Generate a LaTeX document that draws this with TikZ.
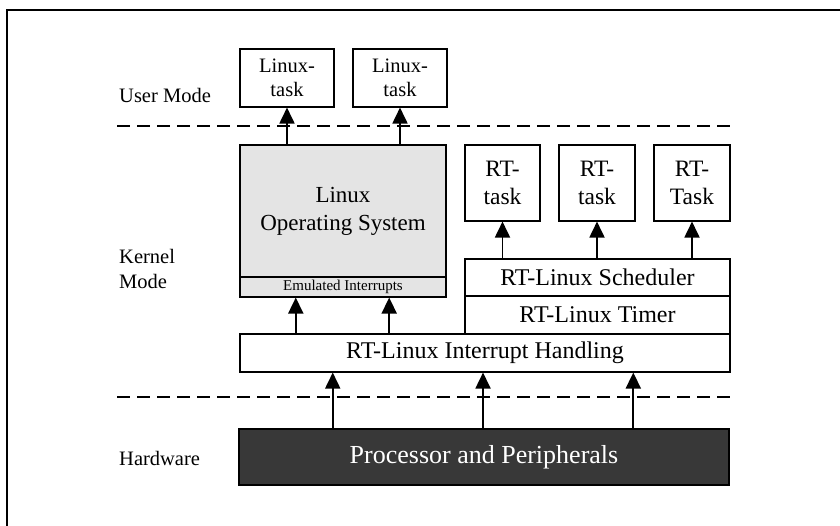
\documentclass[tikz,border=0pt]{standalone}
\usepackage{fontspec}
\setmainfont{Liberation Serif}
\usetikzlibrary{arrows.meta,calc}
\definecolor{osgray}{HTML}{E4E4E4}
\definecolor{hwgray}{HTML}{383838}
\begin{document}
\begin{tikzpicture}[x=1pt,y=-1pt,
  box/.style={draw=black,line width=1.1pt,rectangle,inner sep=0pt,align=center},
  arr/.style={line width=1.8pt,-{Triangle[width=15pt,length=16pt]}},
  sep/.style={line width=2.5pt,dash pattern=on 13pt off 7pt},
  lbl/.style={anchor=west,align=left,inner sep=0pt,font=\fontsize{20.5}{25}\selectfont}]
\useasboundingbox (0,0) rectangle (840,526);
\draw[line width=2.5pt] (7,530) -- (7,10) -- (845,10);
% separators
\draw[sep] (117,126) -- (732,126);
\draw[sep] (117,397) -- (732,397);
% labels
\node[lbl] (um) at (119,95) {User Mode};
\node[lbl] (km) at (119,269) {Kernel\\Mode};
\node[lbl] (hw) at (119,458) {Hardware};
% user tasks
\node[box,minimum width=94pt,minimum height=58pt,font=\fontsize{20.5}{24}\selectfont] (lt1) at (287,78) {Linux-\\task};
\node[box,minimum width=94pt,minimum height=58pt,font=\fontsize{20.5}{24}\selectfont] (lt2) at (400,78) {Linux-\\task};
% Linux OS
\node[box,fill=osgray,minimum width=206pt,minimum height=132pt,font=\fontsize{23}{28}\selectfont] (os) at (343,211) {Linux\\Operating System};
\node[box,fill=osgray,minimum width=206pt,minimum height=20pt,font=\fontsize{15}{18}\selectfont] (emu) at (343,287) {Emulated Interrupts};
% RT tasks
\node[box,minimum width=75pt,minimum height=76pt,font=\fontsize{23.5}{28}\selectfont] (rt1) at (502.5,183) {RT-\\task};
\node[box,minimum width=76pt,minimum height=76pt,font=\fontsize{23.5}{28}\selectfont] (rt2) at (597,183) {RT-\\task};
\node[box,minimum width=76pt,minimum height=76pt,font=\fontsize{23.5}{28}\selectfont] (rt3) at (692,183) {RT-\\Task};
% RT layers
\node[box,minimum width=265pt,minimum height=37pt,font=\fontsize{24}{28}\selectfont] (sched) at (597.5,277.5) {RT-Linux Scheduler};
\node[box,minimum width=265pt,minimum height=38pt,font=\fontsize{24}{28}\selectfont] (timer) at (597.5,315) {RT-Linux Timer};
\node[box,minimum width=490pt,minimum height=38pt,font=\fontsize{24}{28}\selectfont] (irq) at (485,353) {RT-Linux Interrupt Handling};
% hardware
\node[box,fill=hwgray,text=white,minimum width=490pt,minimum height=56pt,font=\fontsize{26}{30}\selectfont] (hwbox) at (484,457) {Processor and Peripherals};
% arrows
\draw[arr] (lt1.south |- os.north) -- (lt1.south);
\draw[arr] (lt2.south |- os.north) -- (lt2.south);
\draw[arr] (rt1.south |- sched.north) -- (rt1.south);
\draw[arr] (rt2.south |- sched.north) -- (rt2.south);
\draw[arr] (rt3.south |- sched.north) -- (rt3.south);
\coordinate (e1) at ($(emu.south west)!0.272!(emu.south east)$);
\coordinate (e2) at ($(emu.south west)!0.723!(emu.south east)$);
\draw[arr] (e1 |- irq.north) -- (e1);
\draw[arr] (e2 |- irq.north) -- (e2);
\coordinate (h1) at ($(hwbox.north west)!0.192!(hwbox.north east)$);
\coordinate (h2) at ($(hwbox.north west)!0.498!(hwbox.north east)$);
\coordinate (h3) at ($(hwbox.north west)!0.804!(hwbox.north east)$);
\draw[arr] (h1) -- (h1 |- irq.south);
\draw[arr] (h2) -- (h2 |- irq.south);
\draw[arr] (h3) -- (h3 |- irq.south);
\end{tikzpicture}
\end{document}
